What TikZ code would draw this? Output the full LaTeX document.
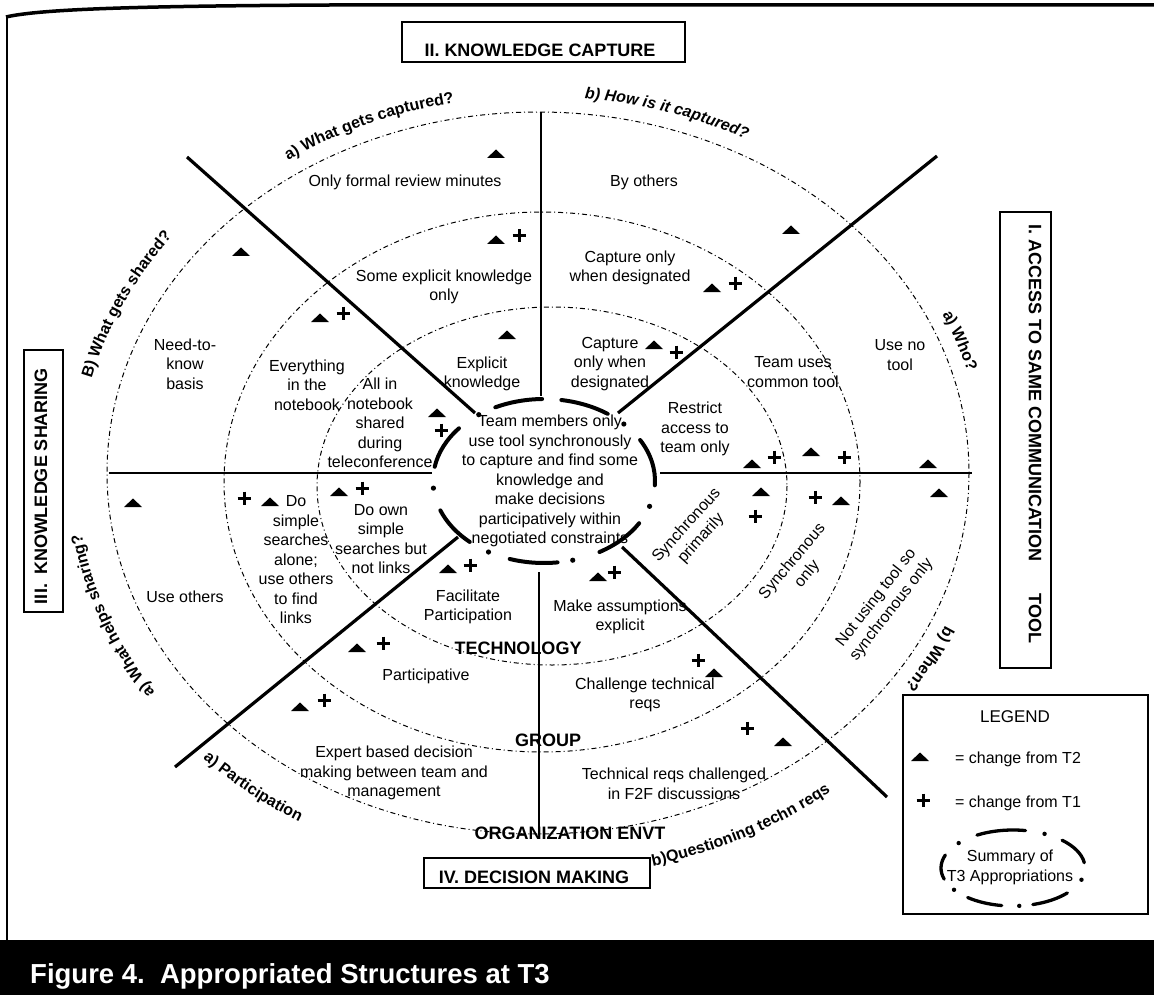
\documentclass[tikz,border=0pt]{standalone}
\usepackage{fontspec}
\setmainfont{Liberation Sans}
\usetikzlibrary{decorations.text,calc}

\newcommand\fs[2]{\fontsize{#1}{#2}\selectfont}
\newcommand\arcfont{\fs{16}{16}\bfseries}
\newcommand\arcfontit{\fs{16}{16}\bfseries\itshape}

\tikzset{
  ringline/.style={line width=1pt, dash pattern=on 5pt off 3pt on 1pt off 3pt},
  sector/.style={line width=3.2pt},
  axisline/.style={line width=1.5pt},
  cell/.style={font=\fs{16}{19.5}, align=center, inner sep=0pt},
  ringname/.style={font=\fs{18}{20}\bfseries, inner sep=0pt},
  boxframe/.style={draw, line width=1.2pt, inner sep=0pt},
  boxtext/.style={font=\fs{18}{20}\bfseries, inner sep=0pt},
  summarc/.style={line width=4pt, line cap=round},
  legarc/.style={line width=3.3pt, line cap=round},
  tri/.pic={\fill (-9,4) -- (0,-4.5) -- (9,4) -- cycle;},
  pls/.pic={\draw[line width=3pt] (-6.5,0) -- (6.5,0) (0,-6.5) -- (0,6.5);},
  arctext/.style={decorate, decoration={text along path, text={#1}}},
}

\begin{document}
\begin{tikzpicture}[x=1pt,y=-1pt]
\useasboundingbox (0,0) rectangle (1154,995);
\fill[white] (0,0) rectangle (1154,995);

% page frame and caption bar
\draw[line width=1.5pt] (7,16) -- (7,940);
\draw[line width=3.5pt] (6,17) .. controls (40,9) and (140,6) .. (330,5) -- (1154,5);
\fill[black] (0,940) rectangle (1154,995);
\node[anchor=base west, text=white, font=\fs{27.5}{30}\bfseries, inner sep=0pt] (cap) at (30,983)
  {Figure 4.\ \ Appropriated Structures at T3};

% concentric rings
\draw[ringline] (538,473) ellipse[x radius=431, y radius=361];
\draw[ringline] (542,482) ellipse[x radius=318, y radius=270];
\draw[ringline] (552,486) ellipse[x radius=235, y radius=179];

% axes and sector dividers
\draw[axisline] (109,473) -- (432,473);
\draw[axisline] (660,473) -- (972,473);
\draw[line width=1.4pt] (541,112) -- (541,396);
\draw[line width=1.4pt] (539,572) -- (539,835);
\draw[sector] (187,157) -- (475,413);
\draw[sector] (937,156) -- (618,413);
\draw[sector] (175,767) -- (458,537);
\draw[sector] (887,797) -- (622,547);

% summary ring
\foreach \a/\b in {-30/3, 31/60, 83/108, 132/159, 190/220, 244/269, 279/305}
  \draw[summarc] (544,481) ++(\a:111 and 82) arc[start angle=\a, end angle=\b, x radius=111, y radius=82];
\foreach \d in {18,75,120,175,234,316}
  \fill (544,481) ++(\d:111 and 82) circle[radius=2.6pt];

% section boxes
\node[boxframe, minimum width=283pt, minimum height=40pt] (kcbox) at (543.5,42) {};
\node[boxtext] (kclab) at (540,50) {II. KNOWLEDGE CAPTURE};
\node[boxframe, minimum width=51pt, minimum height=456pt] (accbox) at (1025.5,440) {};
\node[boxtext, rotate=-90] (acclab) at (1035,434) {I. ACCESS TO SAME COMMUNICATION\hspace{32pt}TOOL};
\node[boxframe, minimum width=39pt, minimum height=262pt] (ksbox) at (43.5,481) {};
\node[boxtext, rotate=90] (kslab) at (41,486) {III.\hspace{9pt}KNOWLEDGE SHARING};
\node[boxframe, minimum width=226pt, minimum height=30pt] (dmbox) at (537,873) {};
\node[boxtext] (dmlab) at (534,877) {IV. DECISION MAKING};

% curved dimension labels
\path[arctext={|\arcfont|a) What gets captured?}]
  ($(538,473)+(-124:447 and 377)$) arc[start angle=-124, end angle=-85, x radius=447, y radius=377];
\path[arctext={|\arcfontit|b) How is it captured?}]
  ($(538,473)+(-84:447 and 377)$) arc[start angle=-84, end angle=-40, x radius=447, y radius=377];
\path[arctext={|\arcfont|a) Who?}]
  ($(538,473)+(-25:446 and 376)$) arc[start angle=-25, end angle=0, x radius=446, y radius=376];
\path[arctext={|\arcfont|b) When?}]
  ($(538,473)+(24:446 and 376)$) arc[start angle=24, end angle=45, x radius=446, y radius=376];
\path[arctext={|\arcfont|b)Questioning techn reqs}]
  ($(538,473)+(76:475 and 405)$) arc[start angle=76, end angle=35, x radius=475, y radius=405];
\path[arctext={|\arcfont|a) Participation}]
  ($(538,473)+(135:474 and 404)$) arc[start angle=135, end angle=100, x radius=474, y radius=404];
\path[arctext={|\arcfont|a) What helps sharing?}]
  ($(538,473)+(146:462 and 392)$) arc[start angle=146, end angle=190, x radius=462, y radius=392];
\path[arctext={|\arcfont|B) What gets shared?}]
  ($(538,473)+(194:460 and 390)$) arc[start angle=194, end angle=240, x radius=460, y radius=390];

% ring names
\node[ringname] (techn) at (518,648) {TECHNOLOGY};
\node[ringname] (group) at (548,740) {GROUP};
\node[ringname] (orgenv) at (570,833) {ORGANIZATION ENVT};

% cell texts
\node[cell] (ofrm) at (405,182) {Only formal review minutes};
\node[cell] (byoth) at (644,182) {By others};
\node[cell] (sek) at (444,287) {Some explicit knowledge\\only};
\node[cell] (cowd) at (630,268) {Capture only\\when designated};
\node[cell] (ntk) at (185,364) {Need-to-\\know\\basis};
\node[cell] (evnb) at (307,385) {Everything\\in the\\notebook};
\node[cell] (allnb) at (380,423) {All in\\notebook\\shared\\during\\teleconference};
\node[cell] (expk) at (482,374) {Explicit\\knowledge};
\node[cell] (capd) at (610,364) {Capture\\only when\\designated};
\node[cell] (tuct) at (793,372) {Team uses\\common tool};
\node[cell] (unt) at (900,355) {Use no\\tool};
\node[cell] (rat) at (695,429) {Restrict\\access to\\team only};
\node[cell] (summ) at (550,481) {Team members only\\use tool synchronously\\to capture and find some\\knowledge and\\make decisions\\participatively within\\negotiated constraints};
\node[cell] (dss) at (296,560) {Do\\simple\\searches\\alone;\\use others\\to find\\links};
\node[cell] (doss) at (381,539) {Do own\\simple\\searches but\\not links};
\node[cell] (useo) at (185,597) {Use others};
\node[cell] (facp) at (468,607) {Facilitate\\Participation};
\node[cell] (maex) at (620,617) {Make assumptions\\explicit};
\node[cell] (partv) at (426,676) {Participative};
\node[cell] (chtr) at (645,695) {Challenge technical\\reqs};
\node[cell] (expd) at (394,773) {Expert based decision\\making between team and\\management};
\node[cell] (tcf) at (674,784) {Technical reqs challenged\\in F2F discussions};
\node[cell, rotate=48] (syncp) at (694,532) {Synchronous\\primarily};
\node[cell, rotate=50] (synco) at (800,568) {Synchronous\\only};
\node[cell, rotate=52] (ntss) at (884,604) {Not using tool so\\synchronous only};

% change markers
\foreach \p in {(496,154),(241,252),(496,240),(320,318),(791,230),(712,288),(507,335),
                (437,413),(654,345),(752,464),(811,452),(928,464),(761,492),(841,501),
                (939,493),(270,502),(339,492),(133,503),(448,569),(598,577),(357,648),
                (300,707),(714,673),(783,742)}
  \pic at \p {tri};
\foreach \p in {(519,236),(343,313),(735,283),(441,430),(676,352),(774,457),(844,457),
                (755,516),(815,497),(244,498),(362,488),(470,565),(614,572),(383,643),
                (324,700),(698,660),(747,728)}
  \pic at \p {pls};

% legend
\node[boxframe, minimum width=245pt, minimum height=219pt] (legbox) at (1025.5,804.5) {};
\node[font=\fs{17}{19}, inner sep=0pt] (leghead) at (1015,717) {LEGEND};
\pic at (920,757) {tri};
\node[font=\fs{16}{18}, inner sep=0pt] (legtri) at (1018,759) {= change from T2};
\pic at (923,800) {pls};
\node[font=\fs{16}{18}, inner sep=0pt] (legpls) at (1018,803) {= change from T1};
\foreach \a/\b in {240/280, 313/352, 41/74, 99/129, 163/200}
  \draw[legarc] (1013,868) ++(\a:72 and 38) arc[start angle=\a, end angle=\b, x radius=72, y radius=38];
\foreach \d in {296,18,85,145,221}
  \fill (1013,868) ++(\d:72 and 38) circle[radius=2.2pt];
\node[font=\fs{16}{20}, align=center, inner sep=0pt] (legsum) at (1010,867) {Summary of\\T3 Appropriations};
\end{tikzpicture}
\end{document}
